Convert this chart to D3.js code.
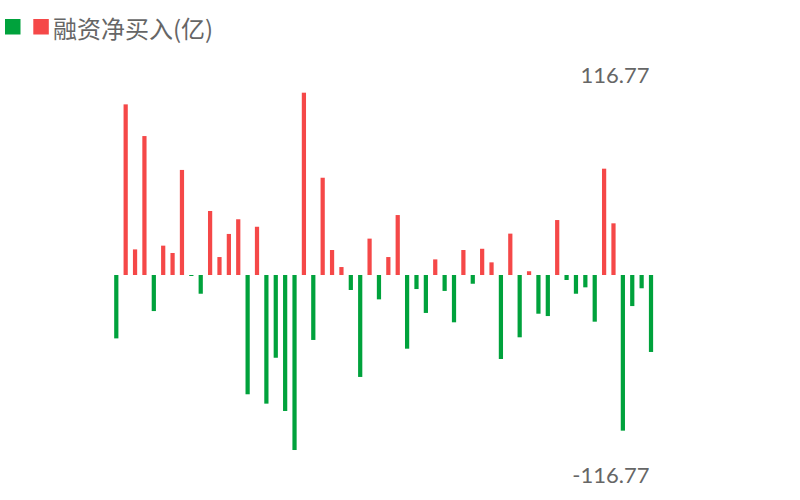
<!DOCTYPE html>
<html><head><meta charset="utf-8">
<script src="https://cdn.jsdelivr.net/npm/d3@7"></script>
<style>html,body{margin:0;padding:0;background:#fff;}svg{display:block;}</style>
</head><body>
<svg id="c" width="800" height="500"></svg>
<script>
const seriesName = "融资净买入(亿)";
const values = [-40.6,109.3,16.4,89.0,-23.1,18.8,14.1,67.3,-0.5,-12.0,
  41.0,11.5,26.3,35.7,-76.4,30.9,-82.4,-53.0,-87.1,-112.1,
  116.77,-41.6,62.3,16.0,5.1,-9.6,-65.3,23.3,-15.6,11.5,
  38.4,-47.2,-9.0,-24.3,10.0,-10.2,-30.3,16.0,-5.6,16.8,
  8.1,-53.8,26.5,-39.9,2.4,-24.8,-26.3,35.2,-3.2,-12.0,
  -7.9,-29.9,68.1,33.1,-99.7,-19.9,-8.5,-49.3];
const axisLabels = ["116.77","-116.77"];
const maxAbs = 116.77;
const red = "#f54848", green = "#00a23c";

const svg = d3.select("#c");
const x = d3.scaleBand().domain(d3.range(values.length)).range([111.6, 655.7]).paddingInner(0.55).paddingOuter(0.275);
const y = d3.scaleLinear().domain([-maxAbs, maxAbs]).range([457.3, 92.7]);

svg.append("g").selectAll("rect").data(values).join("rect")
  .attr("x", (d,i)=>x(i))
  .attr("width", x.bandwidth())
  .attr("y", d=>y(Math.max(0,d)))
  .attr("height", d=>Math.max(1, Math.abs(y(d)-y(0))))
  .attr("fill", d=>d>=0?red:green);

svg.append("text").attr("x",649.5).attr("y",82.5).attr("text-anchor","end")
  .attr("font-family","Lato, 'Noto Sans', sans-serif").attr("font-size",22).attr("fill","#666").text(axisLabels[0]);
svg.append("text").attr("x",649.5).attr("y",482.5).attr("text-anchor","end")
  .attr("font-family","Lato, 'Noto Sans', sans-serif").attr("font-size",22).attr("fill","#666").text(axisLabels[1]);

// legend
svg.append("rect").attr("x",5).attr("y",19).attr("width",15.5).attr("height",15.5).attr("fill",green);
svg.append("rect").attr("x",33.3).attr("y",19).attr("width",15.5).attr("height",15.5).attr("fill",red);
svg.append("text").attr("x",53).attr("y",37.5).attr("font-family","'Noto Sans CJK SC', sans-serif")
  .attr("font-size",24).attr("fill","#666").text(seriesName);
</script>
</body></html>
